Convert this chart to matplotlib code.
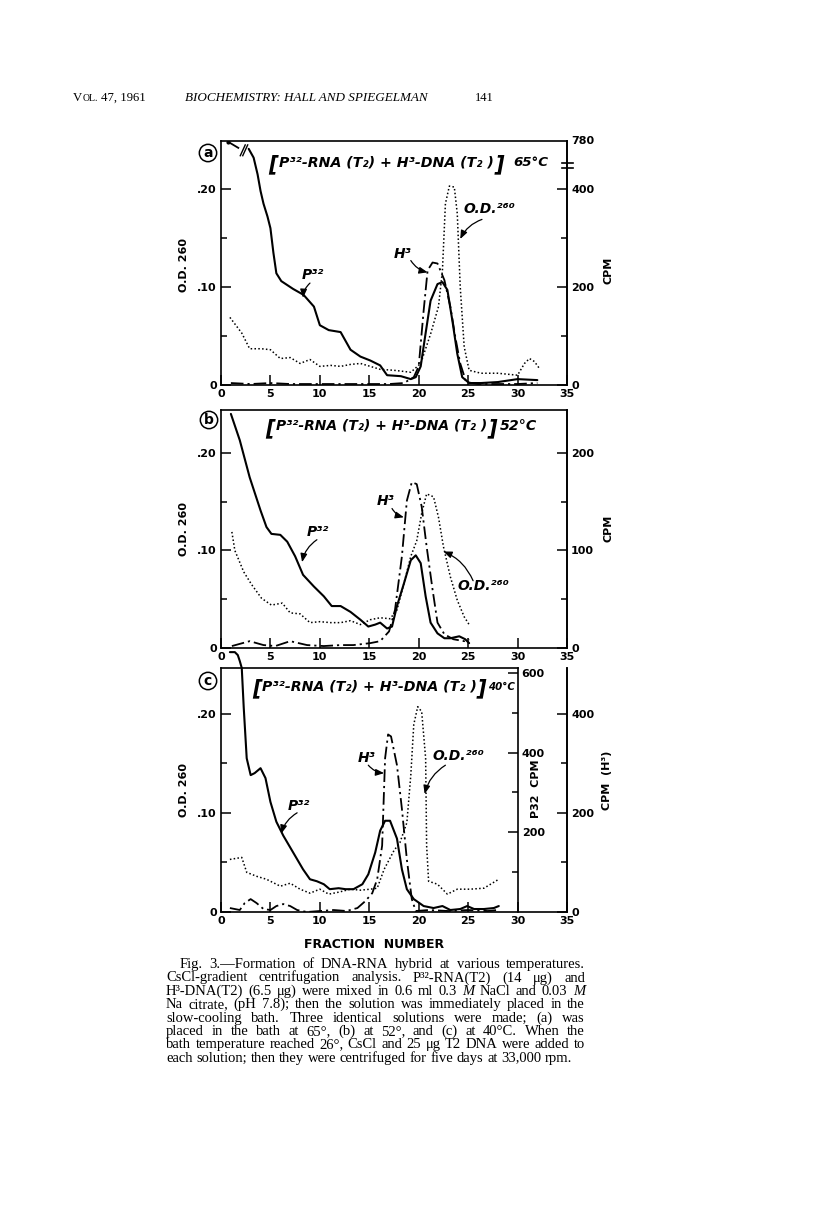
import matplotlib
matplotlib.use("Agg")
import matplotlib.pyplot as plt
import matplotlib.transforms as mtransforms
from matplotlib.ticker import FixedLocator, FixedFormatter, MultipleLocator

plt.rcParams['font.family'] = 'DejaVu Sans'
plt.rcParams['font.weight'] = 'bold'

W, H = 816, 1227

# ---- values (fraction number vs O.D. 260 scale) ----
# (a) 65 C
a_p32_x = [2.8, 3.3, 3.7, 4.0, 4.3, 4.7, 5.0, 5.3, 5.6, 6.1, 7.3, 8.35, 9.4, 10.0, 10.9,
           12.1, 13.1, 14.1, 15.1, 16.1, 16.8, 18.2, 19.2, 19.7, 20.2, 20.7, 21.2, 21.9,
           22.4, 22.9, 23.4, 23.9, 24.4, 25.1, 26.3, 28.0, 30.0, 32.0]
a_p32_y = [0.241, 0.232, 0.215, 0.198, 0.185, 0.172, 0.160, 0.135, 0.114, 0.106, 0.098,
           0.092, 0.080, 0.061, 0.056, 0.054, 0.036, 0.029, 0.025, 0.020, 0.010, 0.009,
           0.006, 0.008, 0.019, 0.053, 0.086, 0.103, 0.105, 0.097, 0.066, 0.032, 0.008,
           0.002, 0.002, 0.003, 0.006, 0.005]
a_p32_off_x = [0.75, 1.75]          # off-scale fractions (780 cpm)
a_p32_off_y = [0.248, 0.242]
a_h3_x = [1, 3, 5, 7, 9, 11, 13, 15, 17, 18.5, 19.5, 20.0, 20.5, 20.9, 21.4, 21.9, 22.6,
          23.2, 23.7, 24.2, 24.8, 26, 28, 30, 32]
a_h3_y = [0.002, 0.001, 0.002, 0.001, 0.001, 0.001, 0.001, 0.001, 0.001, 0.002, 0.008,
          0.019, 0.076, 0.117, 0.125, 0.124, 0.107, 0.080, 0.049, 0.022, 0.003, 0.001,
          0.001, 0.001, 0.002]
a_od_x = [0.9, 2.1, 2.9, 4.1, 5.0, 6.0, 7.0, 8.0, 9.0, 10.0, 11.1, 12.1, 13.1, 14.1, 15.1,
          16.1, 17.5, 19.2, 20.2, 21.2, 22.0, 22.4, 22.7, 23.1, 23.6, 23.9, 24.2, 24.6,
          25.1, 26.3, 28.0, 30.0, 30.7, 31.2, 31.7, 32.2]
a_od_y = [0.069, 0.053, 0.037, 0.037, 0.036, 0.027, 0.028, 0.022, 0.026, 0.019, 0.020,
          0.019, 0.021, 0.022, 0.019, 0.016, 0.015, 0.013, 0.022, 0.052, 0.080, 0.117,
          0.185, 0.203, 0.202, 0.175, 0.100, 0.039, 0.015, 0.012, 0.012, 0.010, 0.022,
          0.027, 0.024, 0.017]

# (b) 52 C
b_p32_x = [1.0, 1.9, 2.9, 4.0, 4.6, 5.1, 6.0, 6.7, 7.5, 8.3, 9.4, 10.4, 11.2, 12.1, 13.1,
           14.1, 14.9, 15.6, 16.1, 16.8, 17.3, 17.8, 18.5, 19.2, 19.7, 20.2, 20.7, 21.2,
           21.9, 22.6, 23.2, 24.1, 24.7, 25.1]
b_p32_y = [0.240, 0.213, 0.175, 0.141, 0.124, 0.117, 0.116, 0.109, 0.094, 0.075, 0.063,
           0.053, 0.043, 0.043, 0.037, 0.029, 0.022, 0.024, 0.026, 0.020, 0.022, 0.043,
           0.066, 0.090, 0.095, 0.087, 0.053, 0.026, 0.015, 0.010, 0.010, 0.012, 0.009,
           0.005]
b_h3_x = [1.1, 2.9, 4.3, 5.5, 7.0, 8.7, 10.4, 12.1, 13.4, 15.1, 16.1, 17.0, 17.6, 18.3,
          18.8, 19.3, 19.8, 20.3, 20.8, 21.4, 21.9, 22.6, 23.5, 24.6, 25.1]
b_h3_y = [0.002, 0.007, 0.003, 0.002, 0.007, 0.003, 0.002, 0.003, 0.003, 0.005, 0.007,
          0.017, 0.039, 0.094, 0.151, 0.170, 0.168, 0.145, 0.104, 0.060, 0.026, 0.014,
          0.009, 0.007, 0.009]
b_od_x = [1.1, 1.4, 2.3, 3.1, 4.1, 5.1, 6.2, 7.0, 8.0, 9.0, 10.0, 11.1, 12.1, 13.1, 14.1,
          15.1, 16.1, 17.1, 17.8, 18.5, 19.2, 19.8, 20.3, 20.8, 21.5, 22.0, 22.5, 23.2,
          23.9, 24.6, 25.1]
b_od_y = [0.119, 0.100, 0.078, 0.065, 0.051, 0.044, 0.046, 0.036, 0.035, 0.026, 0.027,
          0.026, 0.026, 0.028, 0.024, 0.029, 0.031, 0.030, 0.039, 0.066, 0.094, 0.110,
          0.138, 0.158, 0.155, 0.134, 0.104, 0.073, 0.049, 0.032, 0.024]

# (c) 40 C
c_p32_x = [0.9, 1.4, 1.7, 1.9, 2.1, 2.3, 2.6, 3.0, 3.4, 4.0, 4.5, 5.0, 5.6, 6.3, 7.3, 8.3,
           9.0, 9.7, 10.4, 11.0, 11.9, 12.6, 13.4, 14.3, 14.9, 15.6, 16.1, 16.6, 17.1,
           17.8, 18.3, 18.8, 19.5, 20.5, 21.5, 22.4, 23.2, 24.2, 24.9, 25.6, 26.6, 27.6,
           28.1]
c_p32_y = [0.262, 0.262, 0.259, 0.253, 0.246, 0.206, 0.155, 0.138, 0.140, 0.145, 0.135,
           0.111, 0.091, 0.077, 0.060, 0.043, 0.033, 0.031, 0.028, 0.023, 0.024, 0.023,
           0.023, 0.028, 0.038, 0.060, 0.082, 0.092, 0.092, 0.074, 0.043, 0.023, 0.013,
           0.006, 0.004, 0.006, 0.002, 0.003, 0.006, 0.003, 0.003, 0.004, 0.006]
c_h3_x = [0.9, 1.9, 2.4, 3.0, 3.6, 4.3, 5.0, 5.6, 6.3, 7.0, 7.7, 8.7, 10.0, 11.4, 12.7,
          13.8, 14.6, 15.3, 15.8, 16.3, 16.6, 16.9, 17.2, 17.8, 18.3, 18.8, 19.3, 19.7,
          21, 23, 25, 27, 28]
c_h3_y = [0.004, 0.002, 0.009, 0.013, 0.009, 0.003, 0.002, 0.006, 0.008, 0.006, 0.002,
          0.000, 0.001, 0.002, 0.001, 0.004, 0.011, 0.019, 0.033, 0.067, 0.155, 0.179,
          0.177, 0.148, 0.104, 0.053, 0.013, 0.001, 0.002, 0.001, 0.002, 0.001, 0.002]
c_od_x = [0.9, 2.1, 2.6, 3.6, 4.6, 6.0, 7.0, 8.0, 9.0, 10.0, 10.9, 11.9, 13.1, 14.1, 15.1,
          15.8, 16.5, 17.5, 18.1, 18.8, 19.2, 19.5, 19.9, 20.3, 20.7, 20.8, 21.0, 21.9,
          22.9, 23.9, 25.2, 26.6, 28.1]
c_od_y = [0.053, 0.055, 0.040, 0.036, 0.033, 0.026, 0.029, 0.023, 0.019, 0.023, 0.018,
          0.020, 0.023, 0.022, 0.023, 0.024, 0.043, 0.062, 0.070, 0.090, 0.138, 0.189,
          0.207, 0.202, 0.155, 0.067, 0.031, 0.028, 0.018, 0.023, 0.023, 0.024, 0.033]

temps = ['65°C', '52°C', '40°C']
panel_tags = ['a', 'b', 'c']

caption = [
    "Fig. 3.—Formation of DNA-RNA hybrid at various temperatures.",
    "CsCl-gradient centrifugation analysis. P³²-RNA(T2) (14 μg) and",
    "H³-DNA(T2) (6.5 μg) were mixed in 0.6 ml 0.3 *M NaCl and 0.03 *M",
    "Na citrate, (pH 7.8); then the solution was immediately placed in the",
    "slow-cooling bath. Three identical solutions were made; (a) was",
    "placed in the bath at 65°, (b) at 52°, and (c) at 40°C. When the",
    "bath temperature reached 26°, CsCl and 25 μg T2 DNA were added to",
    "each solution; then they were centrifuged for five days at 33,000 rpm.",
]

fig = plt.figure(figsize=(W / 100, H / 100), dpi=100)
fig.patch.set_facecolor('white')
rend = fig.canvas.get_renderer()


def fx(x):
    return x / W


def fy(y):
    return 1 - y / H


def put(x, y, s, **kw):
    return fig.text(fx(x), fy(y), s, **kw)


def wid(t):
    return t.get_window_extent(rend).width


def fit(x0, x1, y, s, size, **kw):
    t = put(x0, y, s, fontsize=size, va='baseline', **kw)
    t.set_fontsize(size * (x1 - x0) / wid(t))
    return t


def justify(x0, x1, y, line, size, last=False):
    ts = []
    for w in line.split():
        st = 'normal'
        if w.startswith('*'):
            w, st = w[1:], 'italic'
        ts.append(put(0, y, w, fontsize=size, family='Liberation Serif',
                      fontweight='normal', style=st, va='baseline'))
    ws = [wid(t) for t in ts]
    sp = size * 0.25 * 100 / 72
    need = sum(ws) + sp * (len(ws) - 1)
    if need > x1 - x0:
        k = (x1 - x0) / need
        for t in ts:
            t.set_fontsize(size * k)
        ws = [w * k for w in ws]
        sp *= k
    gap = sp if last else (x1 - x0 - sum(ws)) / (len(ws) - 1)
    x = x0
    for t, w in zip(ts, ws):
        t.set_x(fx(x))
        x += w + gap


# ---- page header ----
serif = dict(family='Liberation Serif', fontweight='normal', va='baseline')
t = put(73, 101, 'V', fontsize=9.2, **serif)
x = 73 + wid(t)
t = put(x, 101, 'OL.', fontsize=7.0, **serif)
x += wid(t) + 3
put(x, 101, '47, 1961', fontsize=9.2, **serif)
fit(185, 428, 101, 'BIOCHEMISTRY: HALL AND SPIEGELMAN', 10, family='Liberation Serif',
    fontweight='normal', style='italic')
fit(475, 494, 101, '141', 10, family='Liberation Serif', fontweight='normal')

# ---- panels ----
frames = [(141, 385), (410, 648), (668, 912)]
ytops = [0.249, 0.244, 0.246]
curves = [(a_p32_x, a_p32_y, a_h3_x, a_h3_y, a_od_x, a_od_y),
          (b_p32_x, b_p32_y, b_h3_x, b_h3_y, b_od_x, b_od_y),
          (c_p32_x, c_p32_y, c_h3_x, c_h3_y, c_od_x, c_od_y)]
# label text position, arrow start, arrow end (data coords)
notes = [
    [('P³²', (9.3, 0.112), (9.0, 0.104), (8.3, 0.089)),
     ('H³', (18.4, 0.134), (19.2, 0.127), (20.9, 0.115)),
     ('O.D.²⁶⁰', (27.2, 0.180), (26.4, 0.169), (24.2, 0.149))],
    [('P³²', (9.8, 0.119), (9.7, 0.111), (8.2, 0.088)),
     ('H³', (16.6, 0.151), (17.3, 0.143), (18.5, 0.134)),
     ('O.D.²⁶⁰', (26.5, 0.064), (25.5, 0.069), (22.5, 0.099))],
    [('P³²', (7.9, 0.107), (7.7, 0.100), (6.1, 0.079)),
     ('H³', (14.7, 0.155), (14.9, 0.148), (16.5, 0.140)),
     ('O.D.²⁶⁰', (24.0, 0.157), (22.7, 0.148), (20.6, 0.119))],
]
titles = [(268, 279, 494, 495, 513, 548, 166),
          (265, 276, 487, 488, 500, 537, 430),
          (252, 262, 476, 477, 488, 515, 690)]
tags_xy = [(208, 153), (209, 420), (208, 681)]
ylab_y = [265, 529, 790]

tick_kw = dict(direction='in', width=1.1, labelsize=8, pad=3)
axes = []
for i, (top, bot) in enumerate(frames):
    ax = fig.add_axes([fx(221), fy(bot), (567 - 221) / W, (bot - top) / H])
    axes.append(ax)
    ax.set_xlim(0, 35)
    ax.set_ylim(0, ytops[i])
    ax.xaxis.set_major_locator(MultipleLocator(5))
    ax.yaxis.set_major_locator(FixedLocator([0, 0.1, 0.2]))
    ax.yaxis.set_major_formatter(FixedFormatter(['0', '.10', '.20']))
    ax.yaxis.set_minor_locator(FixedLocator([0.05, 0.15]))
    ax.tick_params(length=7, **tick_kw)
    ax.tick_params(which='minor', direction='in', length=4.5, width=1.1)
    for sp in ax.spines.values():
        sp.set_linewidth(1.2)

    px, py, hx, hy, ox, oy = curves[i]
    ax.plot(px, py, color='k', lw=1.5, clip_on=(i != 2), solid_capstyle='round')
    ax.plot(hx, hy, color='k', lw=1.3, ls=(0, (7, 2.2, 1.2, 2.2)))
    ax.plot(ox, oy, color='k', lw=1.1, ls=(0, (1, 1.5)))

    for s, txy, a0, a1 in notes[i]:
        ax.text(txy[0], txy[1], s, fontsize=10, style='italic', ha='center', va='center')
        ax.annotate('', xy=a1, xytext=a0,
                    arrowprops=dict(arrowstyle='-|>,head_length=0.5,head_width=0.2',
                                    lw=0.9, color='k', shrinkA=0, shrinkB=0,
                                    connectionstyle='arc3,rad=0.2'))

    # title in brackets
    b0, i0, i1, b1, t0, t1, yb = titles[i]
    put(b0, yb + 4, '[', fontsize=15, style='italic', va='baseline')
    fit(i0, i1, yb, 'P³²-RNA (T₂) + H³-DNA (T₂ )', 10, style='italic')
    put(b1, yb + 4, ']', fontsize=15, style='italic', va='baseline')
    fit(t0, t1, yb, temps[i], 10, style='italic')

    # circled panel letter and left label
    put(tags_xy[i][0], tags_xy[i][1], panel_tags[i], fontsize=10, ha='center', va='center',
        bbox=dict(boxstyle='circle,pad=0.12', fc='white', ec='k', lw=1.1))
    put(184, ylab_y[i], 'O.D. 260', fontsize=8, rotation=90, ha='center', va='center')

# (a) off-scale P32 start with break mark
ax = axes[0]
ax.plot(a_p32_off_x, a_p32_off_y, color='k', lw=1.3, marker='o', ms=2, markevery=[0])
ax.plot([1.95, 2.45], [0.234, 0.245], color='k', lw=1.0, clip_on=False)
ax.plot([2.2, 2.7], [0.234, 0.245], color='k', lw=1.0, clip_on=False)

# right-hand CPM scales
tw = ax.twinx()
tw.set_ylim(0, ytops[0] * 2000)
tw.yaxis.set_major_locator(FixedLocator([0, 200, 400]))
tw.yaxis.set_minor_locator(FixedLocator([100, 300]))
tw.tick_params(length=7, **tick_kw)
tw.tick_params(which='minor', direction='in', length=4.5, width=1.1)
for s in ('top', 'left', 'bottom'):
    tw.spines[s].set_visible(False)
tw.spines['right'].set_linewidth(1.2)
trans = mtransforms.blended_transform_factory(ax.transAxes, ax.transData)
for yv in (0.2265, 0.2214):
    ax.plot([0.986, 1.018], [yv, yv], color='k', lw=1.2, transform=trans, clip_on=False)
ax.text(1.012, 1.0, '780', fontsize=8, transform=ax.transAxes, ha='left', va='center')
put(608, 270, 'CPM', fontsize=8, rotation=90, ha='center', va='center')

ax = axes[1]
tw = ax.twinx()
tw.set_ylim(0, ytops[1] * 1000)
tw.yaxis.set_major_locator(FixedLocator([0, 100, 200]))
tw.yaxis.set_minor_locator(FixedLocator([50, 150]))
tw.tick_params(length=7, **tick_kw)
tw.tick_params(which='minor', direction='in', length=4.5, width=1.1)
for s in ('top', 'left', 'bottom'):
    tw.spines[s].set_visible(False)
tw.spines['right'].set_linewidth(1.2)
put(608, 528, 'CPM', fontsize=8, rotation=90, ha='center', va='center')

ax = axes[2]
ax.spines['top'].set_bounds(0, 30)
tw = ax.twinx()
tw.set_ylim(0, ytops[2] * 2000)
tw.yaxis.set_major_locator(FixedLocator([0, 200, 400]))
tw.yaxis.set_minor_locator(FixedLocator([100, 300]))
tw.tick_params(length=7, **tick_kw)
tw.tick_params(which='minor', direction='in', length=4.5, width=1.1)
for s in ('top', 'left', 'bottom'):
    tw.spines[s].set_visible(False)
tw.spines['right'].set_linewidth(1.2)
tp = ax.twinx()
tp.spines['right'].set_position(('data', 30))
tp.set_ylim(0, ytops[2] * 2490)
tp.yaxis.set_major_locator(FixedLocator([200, 400, 600]))
tp.yaxis.set_minor_locator(FixedLocator([100, 300, 500]))
tp.tick_params(length=7, **tick_kw)
tp.tick_params(which='minor', direction='in', length=4.5, width=1.1)
for s in ('top', 'left', 'bottom'):
    tp.spines[s].set_visible(False)
tp.spines['right'].set_linewidth(1.2)
put(536, 789, 'P32  CPM', fontsize=8, rotation=90, ha='center', va='center')
put(607, 780, 'CPM  (H³)', fontsize=8, rotation=90, ha='center', va='center')

put(374, 945, 'FRACTION  NUMBER', fontsize=9, ha='center', va='center')

# ---- caption ----
base = [968, 981.5, 995, 1008.3, 1021.6, 1035, 1048.3, 1061.6]
for k, line in enumerate(caption):
    x0 = 180 if k == 0 else 166
    justify(x0, 585, base[k], line, 10.5, last=(k == len(caption) - 1))

fig.savefig('out.png', dpi=100, facecolor='white')
